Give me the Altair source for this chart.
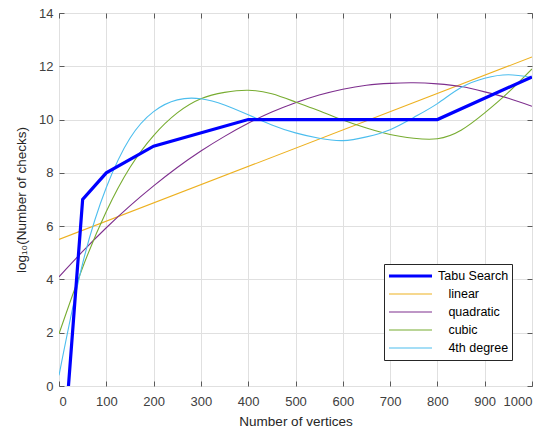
import altair as alt
import pandas as pd

# ---- data ----
INDENT = "\u200b\u00a0\u00a0\u00a0"
series_order = ["Tabu Search", INDENT + "linear", INDENT + "quadratic",
                INDENT + "cubic", INDENT + "4th degree"]
series_colors = ["#0000FF", "#EDB120", "#7E2F8E", "#77AC30", "#4DBEEE"]
series_widths = [3.2, 1.1, 1.1, 1.1, 1.1]

tabu_x = [20, 50, 100, 200, 400, 800, 1000]
tabu_y = [0.0, 7.0, 8.0, 9.0, 10.0, 10.0, 11.6]

linear_x = [0, 1000]
linear_y = [5.5, 12.35]

fit_x = [0, 50, 100, 150, 200, 250, 300, 350, 400, 450, 500,
         550, 600, 650, 700, 750, 800, 850, 900, 950, 1000]
quad_y = [4.10, 5.05, 5.94, 6.76, 7.51, 8.20, 8.82, 9.37, 9.86, 10.28, 10.63,
          10.92, 11.14, 11.29, 11.36, 11.38, 11.34, 11.24, 11.04, 10.80, 10.50]
cubic_y = [1.96, 4.45, 6.55, 8.20, 9.40, 10.25, 10.78, 11.02, 11.10, 10.97, 10.66,
           10.33, 9.98, 9.68, 9.44, 9.30, 9.28, 9.60, 10.25, 11.02, 11.90]
quart_y = [0.40, 4.60, 7.45, 9.30, 10.30, 10.74, 10.78, 10.55, 10.18, 9.80, 9.50,
           9.30, 9.21, 9.35, 9.62, 10.08, 10.60, 11.20, 11.55, 11.68, 11.58]

x_ticks = [0, 100, 200, 300, 400, 500, 600, 700, 800, 900, 1000]
y_ticks = [0, 2, 4, 6, 8, 10, 12, 14]

# ---- tables ----
fits = pd.concat([
    pd.DataFrame({"x": linear_x, "y": linear_y, "series": series_order[1]}),
    pd.DataFrame({"x": fit_x, "y": quad_y, "series": series_order[2]}),
    pd.DataFrame({"x": fit_x, "y": cubic_y, "series": series_order[3]}),
    pd.DataFrame({"x": fit_x, "y": quart_y, "series": series_order[4]}),
], ignore_index=True)
tabu = pd.DataFrame({"x": tabu_x, "y": tabu_y, "series": series_order[0]})
allpts = pd.concat([tabu, fits], ignore_index=True)

FONT = "Liberation Sans"
BOX = "#5a5a5a"

xs = alt.Scale(domain=[0, 1000], nice=False, zero=False)
ys = alt.Scale(domain=[0, 14], nice=False, zero=False)


def make_legend():
    return alt.Legend(
        title=None, orient="none", legendX=325, legendY=251,
        symbolType="stroke", symbolSize=1850,
        labelFont=FONT, labelFontSize=12.5, labelColor="#000000",
        fillColor="#ffffff", strokeColor="#262626", padding=3,
        cornerRadius=0, rowPadding=0, clipHeight=18, labelOffset=4,
    )


color = alt.Color(
    "series:N",
    scale=alt.Scale(domain=series_order, range=series_colors),
    sort=series_order,
    legend=make_legend(),
)
swidth = alt.StrokeWidth(
    "series:N",
    scale=alt.Scale(type="ordinal", domain=series_order, range=series_widths),
    sort=series_order,
    legend=make_legend(),
)

main_x_axis = alt.Axis(
    orient="bottom", values=x_ticks, format="d", grid=True, gridColor="#e0e0e0",
    ticks=False, domain=False, labelPadding=9, labelFont=FONT,
    labelFontSize=13, labelColor="#404040", title="Number of vertices",
    titleFont=FONT, titleFontSize=13.5, titleFontWeight="normal",
    titleColor="#262626", titlePadding=6,
)
main_y_axis = alt.Axis(
    orient="left", values=y_ticks, format="d", grid=True, gridColor="#e0e0e0",
    ticks=False, domain=False, labelPadding=6, labelFont=FONT,
    labelFontSize=13, labelColor="#404040",
    title="log\u2081\u2080(Number of checks)",
    titleFont=FONT, titleFontSize=13.5, titleFontWeight="normal",
    titleColor="#262626", titlePadding=10,
)

fit_layer = alt.Chart(fits).mark_line(interpolate="natural", clip=True).encode(
    x=alt.X("x:Q", scale=xs, axis=main_x_axis),
    y=alt.Y("y:Q", scale=ys, axis=main_y_axis),
    color=color,
    strokeWidth=swidth,
    detail="series:N",
)

tabu_layer = alt.Chart(tabu).mark_line(clip=True).encode(
    x=alt.X("x:Q", scale=xs, axis=None),
    y=alt.Y("y:Q", scale=ys, axis=None),
    color=color,
    strokeWidth=swidth,
)


def tick_axis(orient, values):
    return alt.Axis(
        orient=orient, values=values, offset=-5, tickSize=5, ticks=True,
        tickColor=BOX, tickWidth=1, labels=False, domain=False, grid=False,
        title=None,
    )


ticks_bl = alt.Chart(allpts).mark_point(opacity=0, size=1).encode(
    x=alt.X("x:Q", scale=xs, axis=tick_axis("bottom", x_ticks)),
    y=alt.Y("y:Q", scale=ys, axis=tick_axis("left", y_ticks)),
)
ticks_tr = alt.Chart(allpts).mark_point(opacity=0, size=1).encode(
    x=alt.X("x:Q", scale=xs, axis=tick_axis("top", x_ticks)),
    y=alt.Y("y:Q", scale=ys, axis=tick_axis("right", y_ticks)),
)

chart = (
    alt.layer(fit_layer, tabu_layer, ticks_bl, ticks_tr)
    .resolve_axis(x="independent", y="independent")
    .properties(
        width=473, height=373,
        autosize=alt.AutoSizeParams(type="none"),
        padding={"left": 59, "top": 13, "right": 15, "bottom": 49},
        background="#ffffff",
    )
    .configure_view(stroke=BOX, strokeWidth=1)
)

chart.save("out.html", embed_options={"renderer": "svg", "actions": False})
